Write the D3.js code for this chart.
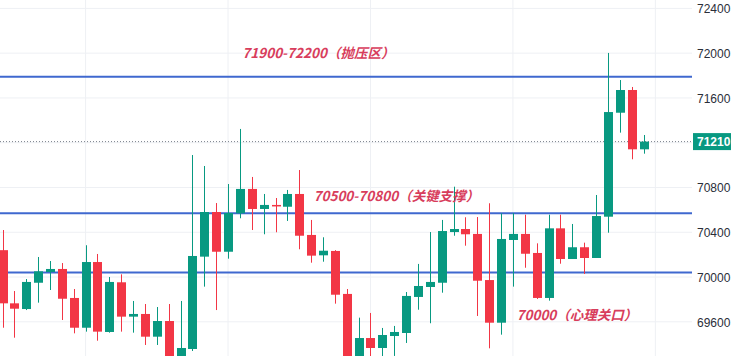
<!DOCTYPE html>
<html>
<head>
<meta charset="utf-8">
<script src="https://cdn.jsdelivr.net/npm/d3@7"></script>
<style>
html,body{margin:0;padding:0;background:#fff;overflow:hidden;}
svg{display:block;}
</style>
</head>
<body>
<svg id="chart" width="731" height="356"></svg>
<script>
// ---- data ----
const opens  = [70240,69765,69714,69949,70045,70072,69813,69547,70134,69509,69953,69646,69670,69467,69607,69241,69357,70182,70581,70226,70569,70787,70608,70644,70628,70742,70376,70194,70233,69849,69215,69455,69366,69473,69500,69822,69911,69949,70402,70429,70385,69973,69592,70331,70385,70215,69813,70435,70161,70266,70170,70539,71468,71671,71141];
const closes = [69765,69717,69956,70051,70072,69806,69547,70134,69512,69956,69646,69670,69467,69607,69223,69366,70188,70581,70226,70572,70787,70608,70644,70635,70742,70369,70191,70235,69842,69250,69455,69366,69482,69509,69831,69920,69956,70411,70429,70382,69967,69592,70340,70385,70208,69813,70435,70161,70266,70170,70545,71474,71671,71141,71210];
const highs  = [70420,69875,69982,70179,70143,70125,69893,70284,70206,70000,70024,69786,69759,69732,69759,69786,71090,70992,70661,70831,71323,70894,70742,70706,70778,70956,70510,70355,70240,69893,69637,69679,69545,69563,69866,70117,70402,70510,70807,70534,70536,70659,70569,70572,70557,70301,70557,70557,70474,70307,70733,72002,71760,71698,71269];
const lows   = [69547,69458,69705,69771,69884,69616,69497,69512,69431,69503,69512,69503,69393,69393,69152,69187,69339,69914,69705,70164,70525,70420,70382,70400,70501,70248,70128,70137,69762,69180,69170,69250,69260,69295,69411,69708,69587,69860,70369,70280,69652,69363,69485,69914,70083,69804,69789,70119,70161,70027,70170,70396,71290,71052,71102];
const yTicks = [69600,70000,70400,70800,71200,71600,72000,72400];
const levels = [71790,70570,70040];
const lastPrice = 71210;
const notes = [
  {text:"71900-72200（抛压区）", value:72000, at:20.2},
  {text:"70500-70800（关键支撑）", value:70724, at:26.2},
  {text:"70000（心理关口）", value:69660, at:43.3}
];
const gridIdx = [7,19,31,43,55];

// ---- layout ----
const W = 731, H = 356, plotRight = 692;
const svg = d3.select("#chart");
const x = d3.scaleLinear().domain([0, 54]).range([2.5, 643.5]);
const y = d3.scaleLinear().domain([69600, 72400]).range([321.8, 8.4]);
const UP = "#089981", DOWN = "#f23645";

// grid
svg.append("g").selectAll("line").data(yTicks).join("line")
  .attr("x1",0).attr("x2",plotRight)
  .attr("y1",d=>y(d)).attr("y2",d=>y(d))
  .attr("stroke","#eef0f4").attr("stroke-width",1);
svg.append("g").selectAll("line").data(gridIdx).join("line")
  .attr("x1",d=>x(d)).attr("x2",d=>x(d))
  .attr("y1",0).attr("y2",H)
  .attr("stroke","#eef0f4").attr("stroke-width",1);

// right axis labels
const axis = d3.axisRight(y).tickValues(yTicks.filter(v=>v!==71200)).tickSize(0).tickPadding(0).tickFormat(d3.format("d"));
const ag = svg.append("g").attr("transform",`translate(697,0)`).call(axis);
ag.select(".domain").remove();
ag.selectAll("text").attr("font-family","Liberation Sans, Arial, sans-serif")
  .attr("font-size",12).attr("fill","#2a2e39").attr("dy","0.35em");

// level lines
svg.append("g").selectAll("line").data(levels).join("line")
  .attr("x1",0).attr("x2",plotRight)
  .attr("y1",d=>y(d)).attr("y2",d=>y(d))
  .attr("stroke","#3f68cf").attr("stroke-width",2);

// last price dotted line
svg.append("line").attr("x1",0).attr("x2",plotRight)
  .attr("y1",y(lastPrice)).attr("y2",y(lastPrice))
  .attr("stroke","#7a7f8a").attr("stroke-width",1).attr("stroke-dasharray","1 2");

// candles
const data = opens.map((o,i)=>({i,o,c:closes[i],h:highs[i],l:lows[i]}));
const g = svg.append("g");
g.selectAll("line.wick").data(data).join("line").attr("class","wick")
  .attr("x1",d=>Math.round(x(d.i))+0.5).attr("x2",d=>Math.round(x(d.i))+0.5)
  .attr("y1",d=>y(d.h)).attr("y2",d=>y(d.l))
  .attr("stroke",d=>d.c>=d.o?UP:DOWN).attr("stroke-width",1);
const bw = 9;
g.selectAll("rect.body").data(data).join("rect").attr("class","body")
  .attr("x",d=>Math.round(x(d.i))+0.5-bw/2)
  .attr("width",bw)
  .attr("y",d=>y(Math.max(d.o,d.c)))
  .attr("height",d=>Math.max(1.5, Math.abs(y(d.o)-y(d.c))))
  .attr("fill",d=>d.c>=d.o?UP:DOWN);

// last price label
svg.append("rect").attr("x",plotRight+1).attr("y",y(lastPrice)-8.5)
  .attr("width",W-plotRight).attr("height",17).attr("fill",UP);
svg.append("text").attr("x",697).attr("y",y(lastPrice)).attr("dy","0.35em")
  .attr("font-family","Liberation Sans, Arial, sans-serif").attr("font-size",12)
  .attr("font-weight","bold").attr("fill","#fff").text(d3.format("d")(lastPrice));

// annotations
svg.append("g").selectAll("text").data(notes).join("text")
  .attr("x",d=>x(d.at)).attr("y",d=>y(d.value)).attr("dy","0.35em")
  .attr("font-family","'Noto Sans CJK SC', 'Noto Sans', sans-serif")
  .attr("font-size",13.5).attr("font-weight","bold").attr("font-style","italic")
  .attr("fill","#d83d5c").text(d=>d.text);
</script>
</body>
</html>
